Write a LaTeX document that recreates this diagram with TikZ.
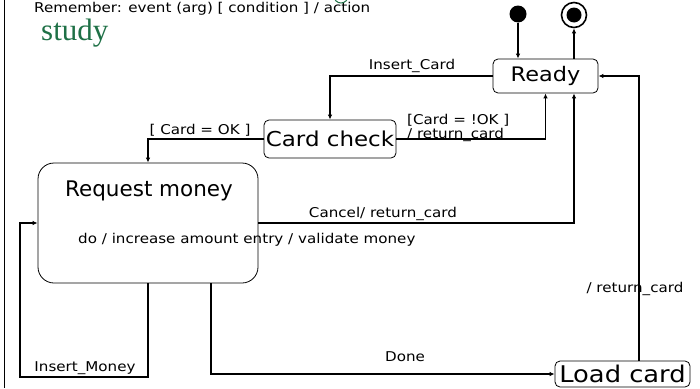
\documentclass[tikz,border=0pt]{standalone}
\usepackage{fontspec}
\setmainfont{DejaVu Sans}
\newfontfamily\wide[FakeStretch=1.12]{DejaVu Sans}
\newfontfamily\studyfont{Liberation Serif}
\usetikzlibrary{arrows.meta,calc}
\definecolor{studygreen}{RGB}{30,112,70}
\tikzset{
  statebox/.style={draw, line width=0.8pt, rounded corners=5pt, inner sep=1pt},
  conn/.style={line width=1.6pt, -{Latex[length=5pt,width=4.5pt]}},
  lbl/.style={font=\wide\fontsize{13.5}{14}\selectfont, inner sep=0pt},
}
\begin{document}
\begin{tikzpicture}[x=1pt,y=-1pt]
\useasboundingbox (0,0) rectangle (700,388);
\draw[line width=1pt] (4.5,0) -- (4.5,388);
% header
\node[lbl, anchor=west] (remember) at (34,9) {Remember: event (arg) [ condition ] / action};
\node[anchor=west, inner sep=0pt, text=studygreen, font=\studyfont\fontsize{31}{31}\selectfont] (study) at (41,33) {study};
\draw[studygreen, line width=1pt] (341,-4) circle (7);
% states
\node[circle, fill=black, minimum size=17pt, inner sep=0pt] (init) at (518,14) {};
\node[circle, draw, line width=1.6pt, minimum size=25pt, inner sep=0pt] (final) at (574,15) {};
\node[circle, fill=black, minimum size=15pt, inner sep=0pt] (finalin) at (574,15) {};
\node[statebox, minimum width=105pt, minimum height=34pt, font=\wide\fontsize{20}{22}\selectfont] (ready) at (545.5,76) {Ready};
\node[statebox, minimum width=132pt, minimum height=38pt, font=\wide\fontsize{20.5}{22}\selectfont] (cc) at (330,139) {Card check};
\node[draw, line width=0.8pt, rounded corners=16pt, minimum width=220pt, minimum height=120pt] (rm) at (148,223) {};
\node[font=\fontsize{21.5}{22}\selectfont, inner sep=0pt] (rmtitle) at (149,191) {Request money};
\node[lbl, anchor=west] (rmdo) at (78,240) {do / increase amount entry / validate money};
\node[statebox, minimum width=135pt, minimum height=26pt, font=\wide\fontsize{23}{24}\selectfont] (lc) at (622.5,374) {Load card};
% connectors
\coordinate (imc) at (20,377);
\coordinate (dn) at (211,0);
\coordinate (rc) at (639,0);
\draw[conn] (init) -- (ready.north -| init);
\draw[conn] (ready.north -| final) -- (final);
\draw[conn] (ready.west) -| (cc.north);
\draw[conn] (cc.west) -| (rm.north);
\draw[conn] (cc.east) -| (ready.south);
\draw[conn] (rm.east) -| (ready.south -| final);
\draw[conn] (rm.south) -- (rm.south |- imc) -- (imc) |- (rm.west);
\draw[conn] (rm.south -| dn) |- (lc.west);
\draw[conn] (lc.north -| rc) |- (ready.east);
% labels
\node[lbl] (l1) at (412,66) {Insert\_Card};
\node[lbl] (l2) at (200,130) {[ Card = OK ]};
\node[lbl, anchor=west, align=left] (l3) at (407,128) {[Card = !OK ]\\/ return\_card};
\node[lbl] (l4) at (383,214) {Cancel/ return\_card};
\node[lbl] (l5) at (85,368) {Insert\_Money};
\node[lbl] (l6) at (405,357) {Done};
\node[lbl] (l7) at (635,289) {/ return\_card};
\end{tikzpicture}
\end{document}
